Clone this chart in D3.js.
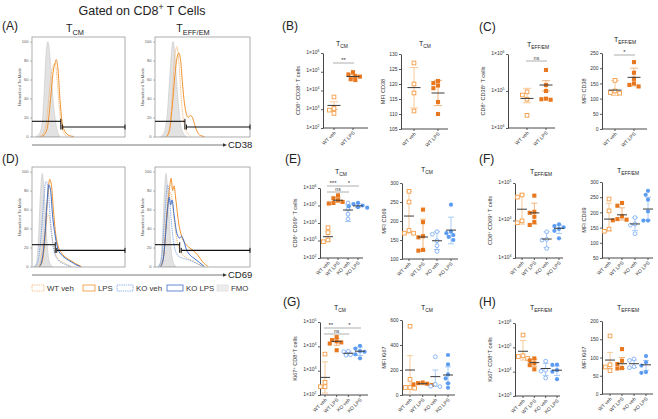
<!DOCTYPE html>
<html>
<head>
<meta charset="utf-8">
<script src="https://cdn.jsdelivr.net/npm/d3@7"></script>
<style>
  body { margin: 0; background: #fff; }
  text { font-family: Arial, "Liberation Sans", sans-serif; }
</style>
</head>
<body>
<svg id="fig" width="658" height="419"></svg>
<script>
// ---- histogram data: [channel 0-100, % of mode] ----
var a1Fmo   = [[4,0],[8,3],[11,15],[13,45],[15,85],[17,100],[19,88],[21,60],[23,35],[25,18],[27,7],[30,0]];
var a1WtVeh = [[8,0],[12,3],[15,12],[18,40],[21,68],[23,75],[25,77],[27,60],[29,35],[31,15],[34,4],[38,0]];
var a1Lps   = [[10,0],[14,3],[17,12],[20,40],[23,70],[25,78],[26,81],[28,70],[30,40],[32,18],[35,6],[40,1],[45,0]];
var a2Fmo   = [[6,0],[10,5],[13,25],[16,70],[18,95],[19,100],[21,85],[23,55],[25,30],[27,12],[30,3],[33,0]];
var a2WtVeh = [[12,0],[15,8],[18,40],[20,75],[22,92],[23,95],[25,80],[27,50],[29,25],[31,12],[34,4],[38,0]];
var a2Lps   = [[12,0],[15,5],[18,30],[21,65],[23,82],[25,88],[27,80],[29,55],[31,35],[33,24],[35,20],[37,22],[39,21],[41,15],[44,6],[48,1],[52,0]];
var d1Fmo   = [[2,0],[5,5],[7,30],[9,75],[11,98],[13,80],[15,45],[17,15],[19,4],[22,0]];
var d1WtVeh = [[6,0],[9,5],[12,25],[15,45],[17,55],[19,50],[21,35],[24,18],[28,8],[34,4],[42,0]];
var d1Lps   = [[8,0],[11,5],[14,30],[17,75],[19,92],[21,85],[23,60],[25,38],[28,22],[32,14],[37,9],[42,6],[47,3],[53,0]];
var d1KoVeh = [[4,0],[7,8],[10,35],[13,75],[15,90],[17,85],[19,60],[21,35],[24,15],[28,7],[34,3],[42,0]];
var d1KoLps = [[8,0],[11,8],[14,35],[16,65],[18,86],[20,80],[22,55],[25,32],[28,18],[32,12],[37,8],[42,5],[47,2],[52,0]];
var d2Fmo   = [[3,0],[6,5],[8,35],[10,80],[11.5,98],[13,85],[15,50],[17,18],[19,5],[22,0]];
var d2WtVeh = [[6,0],[9,10],[12,45],[14,70],[16,78],[18,70],[20,50],[23,28],[27,15],[32,10],[38,7],[45,3],[52,0]];
var d2Lps   = [[6,0],[9,10],[12,50],[15,80],[17,93],[18.5,80],[20,85],[22,70],[25,45],[28,32],[32,24],[36,20],[40,17],[45,12],[50,5],[56,0]];
var d2KoVeh = [[4,0],[7,10],[10,50],[12,78],[13.5,86],[15,75],[17,50],[19,30],[22,15],[26,10],[32,8],[38,6],[44,3],[50,0]];
var d2KoLps = [[6,0],[9,10],[12,45],[14,68],[15,73],[16.5,65],[18,70],[20,55],[23,35],[26,30],[28,32],[30,28],[33,18],[37,12],[42,8],[47,4],[52,0]];
var histTicks = [0, 20, 40, 60, 80, 100];
var gatePos = [31, 31.5, 25, 26];          // A-TCM, A-TEFF, D-TCM, D-TEFF
var gateLeft = [16, 16, 23, 23];
var gateRight = [10, 10, 17, 17];

// ---- dot plot data ----
var groups2 = ["WT veh", "WT LPS"];
var groups4 = ["WT veh", "WT LPS", "KO veh", "KO LPS"];

var b1Values = [[4500,1100,900,600],[95000,72000,60000,55000,40000,36000]];
var b1Means = [1600, 56000], b1Lo = [960, 45000], b1Hi = [2500, 70000];
var b2Values = [[127,120,117,111],[121,120.3,119.5,118.6,114,110]];
var b2Means = [118.8, 117], b2Lo = [112, 112.8], b2Hi = [125.5, 121.2];
var c1Values = [[95000,78000,60000,22000],[370000,145000,100000,62000,60000,58000]];
var c1Means = [63000, 145000], c1Lo = [48000, 100000], c1Hi = [118000, 190000];
var c2Values = [[160,118,125,120],[220,185,165,150,145,140]];
var c2Means = [128, 170], c2Lo = [110, 142], c2Hi = [160, 200];
var e1Values = [[5400,2800,1070,850],[380000,260000,200000,160000,140000,130000],[140000,63000,32000,17000],[140000,120000,100000,90000,80000,75000]];
var e1Means = [1650, 200000, 55000, 95000], e1Lo = [900, 150000, 12000, 78000], e1Hi = [3200, 280000, 107000, 125000];
var e2Values = [[278,250,175,168,168],[230,197,160,157,124,122],[172,165,148,135,120],[243,172,168,163,158,150]];
var e2Means = [213, 158, 148, 176], e2Lo = [168, 122, 125, 140], e2Hi = [278, 205, 172, 210];
var f1Values = [[48000,42000,9800,8700],[46000,17000,16000,12600,9100,7600],[5000,3150,3000,1800],[7900,7100,6600,5300,3350,6000]];
var f1Means = [20000, 16000, 3200, 6200], f1Lo = [8000, 8000, 1900, 4500], f1Hi = [50000, 29000, 5000, 7600];
var f2Values = [[244,205,145,138],[231,222,187,178,176,174],[183,162,158,130],[271,258,242,203,173,173]];
var f2Means = [178, 192, 162, 211], f2Lo = [140, 175, 140, 175], f2Hi = [230, 215, 183, 250];
var g1Values = [[4800,330,220,220],[24000,18000,16000,14500,13000,6900],[6300,6000,4500,4300],[10500,8100,6300,4700,3200,6000]];
var g1Means = [530, 16000, 5200, 6300], g1Lo = [120, 11000, 4300, 4200], g1Hi = [2300, 21000, 6200, 9500];
var g2Values = [[550,125,60,55,60],[100,95,90,85,80],[306,86,67,70],[320,245,165,133,93,58]];
var g2Means = [200, 90, 147, 160], g2Lo = [0, 82, 70, 95], g2Hi = [315, 98, 200, 225];
var h1Values = [[320000,45000,42000,35000],[35000,29000,22000,18500,12500],[27000,11500,10500,5500],[19500,19000,11500,10000,4900]];
var h1Means = [69000, 23500, 13500, 11500], h1Lo = [30000, 16000, 7000, 7000], h1Hi = [190000, 32000, 22000, 17000];
var h2Values = [[159,80,74,64],[123,91,82,71,70],[96,92,75,72],[104,87,78,60,58]];
var h2Means = [93, 83, 83, 80], h2Lo = [70, 70, 72, 65], h2Hi = [114, 100, 93, 92];

var b1Sig = [[0,1,0,"**"]];
var c1Sig = [[0,1,0,"ns"]];
var c2Sig = [[0,1,0,"*"]];
var e1Sig = [[0,1,0,"***"],[1,3,0,"*"],[0,2,1,"ns"]];
var g1Sig = [[0,1,0,"**"],[1,3,0,"*"],[0,2,1,"ns"]];

var ticksB2 = [105,110,115,120,125,130];
var ticksC2 = [0,50,100,150,200,250];
var ticksE2 = [100,150,200,250,300];
var ticksF2 = [50,100,150,200,250,300];
var ticksG2 = [0,200,400,600];
var ticksH2 = [0,50,100,150,200];

var svg = d3.select("#fig");

// text with ^{sup} and _{sub} parts
function rich(t, str, fs) {
  var parts = str.split(/(\^\{[^}]*\}|_\{[^}]*\})/).filter(function(s){ return s.length; });
  var shift = 0;
  parts.forEach(function(p) {
    var target = 0, content = p, small = false;
    if (p.indexOf("^{") === 0) { target = -fs * 0.4; content = p.slice(2, -1); small = true; }
    else if (p.indexOf("_{") === 0) { target = fs * 0.25; content = p.slice(2, -1); small = true; }
    var ts = t.append("tspan").attr("dy", target - shift).text(content);
    if (small) ts.attr("font-size", fs * 0.7);
    shift = target;
  });
}

// ---- title and panel letters ----
rich(svg.append("text").attr("x", 142).attr("y", 15).attr("text-anchor", "middle")
  .attr("font-size", 12.5).attr("fill", "#222"), "Gated on CD8^{+} T Cells", 12.5);

[["(A)",2,30],["(D)",2,163],["(B)",282,30],["(C)",479,31],["(E)",285,163],["(F)",479,163],["(G)",283,306],["(H)",479,306]]
  .forEach(function(p) {
    svg.append("text").attr("x", p[1]).attr("y", p[2]).attr("font-size", 12).attr("fill", "#222").text(p[0]);
  });

// ---- histograms ----
var orange = "#f0922e", orangeLight = "#f5b26b", blue = "#3f6fc8", blueLight = "#6e9ce6";
var hStyles = {
  fmo:   {fill: "#e2e2e2", stroke: "#c6c6c6", dash: null, w: 0.6},
  wtVeh: {fill: "none", stroke: orangeLight, dash: "1.3,0.9", w: 0.9},
  lps:   {fill: "none", stroke: orange, dash: null, w: 1},
  koVeh: {fill: "none", stroke: blueLight, dash: "1.3,0.9", w: 0.9},
  koLps: {fill: "none", stroke: blue, dash: null, w: 1}
};
var hists = [
  {x0: 32, y0: 37, w: 93, title: "T_{CM}", tx: 75, curves: [["fmo",a1Fmo],["wtVeh",a1WtVeh],["lps",a1Lps]]},
  {x0: 155, y0: 37, w: 95, title: "T_{EFF/EM}", tx: 193, curves: [["fmo",a2Fmo],["wtVeh",a2WtVeh],["lps",a2Lps]]},
  {x0: 32, y0: 167, w: 93, curves: [["fmo",d1Fmo],["wtVeh",d1WtVeh],["koVeh",d1KoVeh],["lps",d1Lps],["koLps",d1KoLps]]},
  {x0: 155, y0: 167, w: 95, curves: [["fmo",d2Fmo],["wtVeh",d2WtVeh],["koVeh",d2KoVeh],["lps",d2Lps],["koLps",d2KoLps]]}
];

hists.forEach(function(h, i) {
  var g = svg.append("g");
  var x = d3.scaleLinear().domain([0, 100]).range([h.x0, h.x0 + h.w]);
  var y = d3.scaleLinear().domain([0, 100]).range([h.y0 + 99.5, h.y0 + 4.6]);
  var line = d3.line().x(function(d){ return x(d[0]); }).y(function(d){ return y(d[1]); }).curve(d3.curveMonotoneX);
  var area = d3.area().x(function(d){ return x(d[0]); }).y0(y(0)).y1(function(d){ return y(d[1]); }).curve(d3.curveMonotoneX);

  h.curves.forEach(function(c) {
    var s = hStyles[c[0]];
    if (s.fill !== "none") {
      g.append("path").datum(c[1]).attr("d", area).attr("fill", s.fill).attr("stroke", s.stroke).attr("stroke-width", s.w);
    } else {
      g.append("path").datum(c[1]).attr("d", line).attr("fill", "none").attr("stroke", s.stroke)
        .attr("stroke-width", s.w).attr("stroke-dasharray", s.dash);
    }
  });

  g.append("rect").attr("x", h.x0).attr("y", h.y0).attr("width", h.w).attr("height", 100)
    .attr("fill", "none").attr("stroke", "#9a9a9a").attr("stroke-width", 0.8);

  var ya = g.append("g").attr("transform", "translate(" + h.x0 + ",0)")
    .call(d3.axisLeft(y).tickValues(histTicks).tickSize(2).tickSizeOuter(0).tickPadding(1.5));
  ya.select(".domain").remove();
  ya.selectAll("text").attr("font-size", 4).attr("fill", "#555");
  ya.selectAll("line").attr("stroke", "#777").attr("stroke-width", 0.5);
  g.append("text").attr("transform", "translate(" + (h.x0 - 11) + "," + (h.y0 + 50) + ") rotate(-90)")
    .attr("text-anchor", "middle").attr("font-size", 4.2).attr("fill", "#555").text("Normalized To Mode");

  // bisector gate
  var gx = x(gatePos[i]), yl = y(gateLeft[i]), yr = y(gateRight[i]);
  var gs = "#111";
  g.append("line").attr("x1", x(0)).attr("x2", gx).attr("y1", yl).attr("y2", yl).attr("stroke", gs).attr("stroke-width", 1.1);
  g.append("line").attr("x1", gx + 1.5).attr("x2", x(100)).attr("y1", yr).attr("y2", yr).attr("stroke", gs).attr("stroke-width", 1.1);
  g.append("line").attr("x1", gx).attr("x2", gx).attr("y1", yl - 2.5).attr("y2", yr + 2.5).attr("stroke", gs).attr("stroke-width", 1);
  g.append("line").attr("x1", gx + 1.5).attr("x2", gx + 1.5).attr("y1", yr - 2.5).attr("y2", yr + 2.5).attr("stroke", gs).attr("stroke-width", 1);
  g.append("line").attr("x1", x(100)).attr("x2", x(100)).attr("y1", yr - 2.5).attr("y2", yr + 2.5).attr("stroke", gs).attr("stroke-width", 1);

  if (h.title) {
    rich(svg.append("text").attr("x", h.tx).attr("y", 32).attr("text-anchor", "middle")
      .attr("font-size", 10.5).attr("fill", "#222"), h.title, 10.5);
  }
});

// marker axes
[[145, "CD38"], [275, "CD69"]].forEach(function(a) {
  svg.append("line").attr("x1", 32).attr("x2", 223).attr("y1", a[0]).attr("y2", a[0])
    .attr("stroke", "#555").attr("stroke-width", 0.8);
  svg.append("path").attr("d", "M223," + (a[0] - 1.8) + "L227," + a[0] + "L223," + (a[0] + 1.8) + "Z").attr("fill", "#333");
  svg.append("text").attr("x", 228).attr("y", a[0] + 3.3).attr("font-size", 9.5).attr("fill", "#222").text(a[1]);
});

// histogram legend
var legendItems = [["wtVeh","WT veh",32,12],["lps","LPS",83,12],["koVeh","KO veh",117,16],["koLps","KO LPS",167,16],["fmo","FMO",217,11]];
legendItems.forEach(function(l) {
  var s = hStyles[l[0]];
  svg.append("rect").attr("x", l[2]).attr("y", 285).attr("width", l[3]).attr("height", 6)
    .attr("fill", l[0] === "fmo" ? "#ececec" : "none").attr("stroke", l[0] === "fmo" ? "#dedede" : s.stroke)
    .attr("stroke-width", 0.8).attr("stroke-dasharray", s.dash);
  svg.append("text").attr("x", l[2] + l[3] + 3).attr("y", 291).attr("font-size", 7.8).attr("fill", "#333").text(l[1]);
});

// ---- dot plots ----
var groupStyle = {
  "WT veh": {shape: "square", open: true,  color: "#f39c45", err: "#f8c899"},
  "WT LPS": {shape: "square", open: false, color: "#e8781f", err: "#f2b47c"},
  "KO veh": {shape: "circle", open: true,  color: "#6ea6f3", err: "#a9cbf8"},
  "KO LPS": {shape: "circle", open: false, color: "#5c9cf2", err: "#a9cbf8"}
};

var charts = [
  {ax:323, x1:368, yTop:53, yBot:128, c0:334, c1:353, exps:[2,3,4,5,6], title:"T_{CM}", tx:342, ty:46, ylab:"CD8^{+} CD38^{+} T cells", groups:groups2, values:b1Values, means:b1Means, lo:b1Lo, hi:b1Hi, sig:b1Sig, sigY:[63]},
  {ax:401, x1:448, yTop:54, yBot:129, c0:414, c1:438, ticks:ticksB2, title:"T_{CM}", tx:425, ty:46, ylab:"MFI CD38", groups:groups2, values:b2Values, means:b2Means, lo:b2Lo, hi:b2Hi},
  {ax:508, x1:555, yTop:54, yBot:128, c0:527, c1:546, exps:[4,5,6], title:"T_{EFF/EM}", tx:538, ty:47, ylab:"CD8^{+} CD38^{+} T cells", groups:groups2, values:c1Values, means:c1Means, lo:c1Lo, hi:c1Hi, sig:c1Sig, sigY:[61]},
  {ax:602, x1:647, yTop:53, yBot:129, c0:615, c1:634, ticks:ticksC2, title:"T_{EFF/EM}", tx:625, ty:42, ylab:"MFI CD38", groups:groups2, values:c2Values, means:c2Means, lo:c2Lo, hi:c2Hi, sig:c2Sig, sigY:[55]},
  {ax:320, x1:363, yTop:188, yBot:258, c0:328, c1:358, exps:[2,3,4,5,6], title:"T_{CM}", tx:341, ty:174, ylab:"CD8^{+} CD69^{+} T cells", groups:groups4, values:e1Values, means:e1Means, lo:e1Lo, hi:e1Hi, sig:e1Sig, sigY:[186,192]},
  {ax:402, x1:458, yTop:183, yBot:259, c0:409, c1:451, ticks:ticksE2, title:"T_{CM}", tx:427, ty:172, ylab:"MFI CD69", groups:groups4, values:e2Values, means:e2Means, lo:e2Lo, hi:e2Hi},
  {ax:515, x1:563, yTop:183, yBot:258, c0:522, c1:559, exps:[3,4,5], title:"T_{EFF/EM}", tx:541, ty:174, ylab:"CD8^{+} CD69^{+} T cells", groups:groups4, values:f1Values, means:f1Means, lo:f1Lo, hi:f1Hi},
  {ax:602, x1:653, yTop:182, yBot:258, c0:609, c1:648, ticks:ticksF2, title:"T_{EFF/EM}", tx:628, ty:173, ylab:"MFI CD69", groups:groups4, values:f2Values, means:f2Means, lo:f2Lo, hi:f2Hi},
  {ax:320, x1:368, yTop:322, yBot:395, c0:325, c1:360, exps:[2,3,4,5], title:"T_{CM}", tx:340, ty:310, ylab:"Ki67^{+} CD8^{+}T cells", groups:groups4, values:g1Values, means:g1Means, lo:g1Lo, hi:g1Hi, sig:g1Sig, sigY:[328,334]},
  {ax:402, x1:455, yTop:320, yBot:395, c0:410, c1:448, ticks:ticksG2, title:"T_{CM}", tx:427, ty:310, ylab:"MFI Ki67", groups:groups4, values:g2Values, means:g2Means, lo:g2Lo, hi:g2Hi},
  {ax:515, x1:560, yTop:323, yBot:396, c0:523, c1:557, exps:[3,4,5,6], title:"T_{EFF/EM}", tx:541, ty:310, ylab:"Ki67^{+} CD8^{+}T cells", groups:groups4, values:h1Values, means:h1Means, lo:h1Lo, hi:h1Hi},
  {ax:602, x1:653, yTop:321, yBot:394, c0:610, c1:646, ticks:ticksH2, title:"T_{EFF/EM}", tx:628, ty:310, ylab:"MFI Ki67", groups:groups4, values:h2Values, means:h2Means, lo:h2Lo, hi:h2Hi}
];

// simple beeswarm so overlapping points spread sideways
function dodge(pts, minD, step) {
  var placed = [];
  pts.sort(function(a, b){ return a.cy - b.cy; });
  pts.forEach(function(p) {
    var ks = [0,-1,1,-2,2,-3,3,-4,4,-5,5];
    p.x = p.cx;
    for (var k = 0; k < ks.length; k++) {
      var xx = p.cx + ks[k] * step;
      var ok = placed.every(function(q){ return Math.hypot(q.x - xx, q.cy - p.cy) >= minD; });
      if (ok) { p.x = xx; break; }
    }
    placed.push(p);
  });
  return pts;
}

charts.forEach(function(c) {
  var g = svg.append("g");
  var isLog = !!c.exps;
  var y = isLog
    ? d3.scaleLog().domain([Math.pow(10, c.exps[0]), Math.pow(10, c.exps[c.exps.length - 1])]).range([c.yBot, c.yTop]).clamp(true)
    : d3.scaleLinear().domain([c.ticks[0], c.ticks[c.ticks.length - 1]]).range([c.yBot, c.yTop]).clamp(true);
  var x = d3.scalePoint().domain(c.groups).range([c.c0, c.c1]);
  var four = c.groups.length > 2;
  var meanW = four ? 10 : 13, capW = four ? 6 : 8;

  // y axis
  var tv = isLog ? c.exps.map(function(e){ return Math.pow(10, e); }) : c.ticks;
  var ya = g.append("g").attr("transform", "translate(" + c.ax + ",0)").attr("color", "#333")
    .call(d3.axisLeft(y).tickValues(tv).tickSize(2).tickSizeOuter(0).tickPadding(1.5));
  ya.select(".domain").attr("stroke-width", 0.9);
  ya.selectAll("line").attr("stroke-width", 0.8);
  ya.selectAll("text").attr("font-size", 5).attr("fill", "#333").each(function(d) {
    if (isLog) {
      var t = d3.select(this).text(null);
      rich(t, "1\u00d710^{" + Math.round(Math.log10(d)) + "}", 5);
    }
  });

  // x axis
  g.append("line").attr("x1", c.ax).attr("x2", c.x1).attr("y1", c.yBot).attr("y2", c.yBot)
    .attr("stroke", "#333").attr("stroke-width", 0.9);
  c.groups.forEach(function(gr) {
    g.append("line").attr("x1", x(gr)).attr("x2", x(gr)).attr("y1", c.yBot).attr("y2", c.yBot + 2)
      .attr("stroke", "#333").attr("stroke-width", 0.8);
    g.append("text").attr("transform", "translate(" + (x(gr) + 1) + "," + (c.yBot + 4) + ") rotate(-45)")
      .attr("text-anchor", "end").attr("dy", "0.35em").attr("font-size", 5).attr("fill", "#333").text(gr);
  });

  // y label and title
  var off = isLog ? 23 : 16;
  rich(g.append("text").attr("transform", "translate(" + (c.ax - off) + "," + ((c.yTop + c.yBot) / 2) + ") rotate(-90)")
    .attr("text-anchor", "middle").attr("font-size", 5.6).attr("fill", "#333"), c.ylab, 5.6);
  rich(g.append("text").attr("x", c.tx).attr("y", c.ty).attr("text-anchor", "middle")
    .attr("font-size", 7).attr("fill", "#222"), c.title, 7);

  // error bars
  c.groups.forEach(function(gr, i) {
    var st = groupStyle[gr], cx = x(gr);
    var y1 = y(c.lo[i]), y2 = y(c.hi[i]);
    g.append("line").attr("x1", cx).attr("x2", cx).attr("y1", y1).attr("y2", y2).attr("stroke", st.err).attr("stroke-width", 1);
    [c.lo[i], c.hi[i]].forEach(function(v) {
      if (v <= y.domain()[0]) return;
      g.append("line").attr("x1", cx - capW / 2).attr("x2", cx + capW / 2).attr("y1", y(v)).attr("y2", y(v))
        .attr("stroke", st.err).attr("stroke-width", 1);
    });
  });

  // points
  c.groups.forEach(function(gr, i) {
    var st = groupStyle[gr];
    var pts = dodge(c.values[i].map(function(v){ return {cx: x(gr), cy: y(v)}; }), 4.1, 2.3);
    pts.forEach(function(p) {
      if (st.shape === "square") {
        var s = st.open ? 3.7 : 4.1;
        g.append("rect").attr("x", p.x - s / 2).attr("y", p.cy - s / 2).attr("width", s).attr("height", s)
          .attr("fill", st.open ? "#fff" : st.color).attr("stroke", st.color).attr("stroke-width", st.open ? 0.9 : 0);
      } else {
        g.append("circle").attr("cx", p.x).attr("cy", p.cy).attr("r", st.open ? 1.9 : 2.1)
          .attr("fill", st.open ? "#fff" : st.color).attr("stroke", st.color).attr("stroke-width", st.open ? 0.8 : 0);
      }
    });
  });

  // means
  c.groups.forEach(function(gr, i) {
    var cx = x(gr), ym = y(c.means[i]);
    g.append("line").attr("x1", cx - meanW / 2).attr("x2", cx + meanW / 2).attr("y1", ym).attr("y2", ym)
      .attr("stroke", "#3c3c3c").attr("stroke-width", 1);
  });

  // significance
  (c.sig || []).forEach(function(s) {
    var xa = x(c.groups[s[0]]) - 1, xb = x(c.groups[s[1]]) + 1, yy = c.sigY[s[2]];
    if (s[0] === 1) xa += 2;
    g.append("line").attr("x1", xa).attr("x2", xb).attr("y1", yy).attr("y2", yy).attr("stroke", "#999").attr("stroke-width", 0.8);
    g.append("text").attr("x", (xa + xb) / 2).attr("y", yy - 1).attr("text-anchor", "middle")
      .attr("font-size", s[3] === "ns" ? 5 : 6).attr("fill", "#333").text(s[3]);
  });
});
</script>
</body>
</html>
